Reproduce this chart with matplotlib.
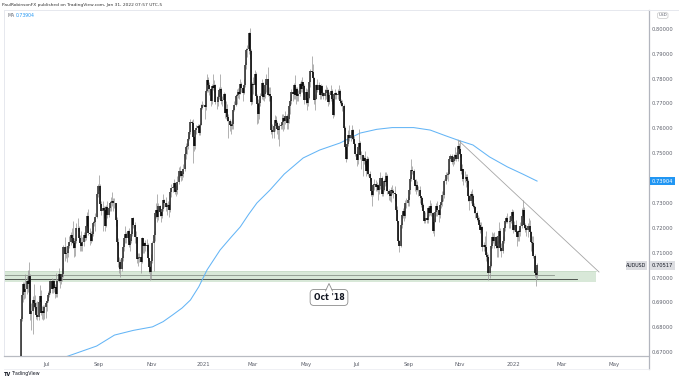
import numpy as np
import pandas as pd
import matplotlib
matplotlib.use("Agg")
import matplotlib.pyplot as plt
from matplotlib.patches import Polygon, FancyBboxPatch
import matplotlib.transforms as mtransforms

# ---------------- data (AUDUSD daily, values in pips = price * 10000) ----------------
first_open = 6669

close_2020 = [
    6836, 6933, 6975, 6946, 6955, 6990, 6978, 7007, 6855, 6866, 6910, 6898, 6883, 6850, 6845, 6905, 6928, 6860, 6868, 6860, 6883, 6900,
    6908, 6934, 6940, 6988, 6957, 6988, 6960, 6966, 6935, 6990, 7015, 6989, 7004, 7015, 7125, 7098, 7100, 7100, 7130, 7146, 7173, 7160, 7143,
    7120, 7150, 7200, 7200, 7160, 7140, 7130, 7145, 7172, 7163, 7210, 7250, 7183, 7177, 7150, 7178, 7222, 7225, 7245, 7340, 7372,
    7370, 7296, 7270, 7283, 7272, 7210, 7287, 7255, 7280, 7302, 7304, 7311, 7300, 7300, 7233, 7147, 7063, 7063, 7037, 7082, 7125, 7162,
    7176, 7163, 7190, 7133, 7150, 7178, 7240, 7215, 7166, 7165, 7078, 7082, 7085, 7066, 7163, 7128, 7142, 7128, 7133, 7080, 7046, 7023,
    7070, 7140, 7175, 7260, 7275, 7247, 7290, 7264, 7250, 7277, 7314, 7303, 7285, 7291, 7295, 7275, 7345, 7364, 7368, 7383, 7345,
    7353, 7385, 7430, 7430, 7410, 7420, 7438, 7500, 7526, 7530, 7560, 7586, 7628, 7624, 7566, 7530, 7594, 7605, 7612, 7582, 7617, 7684, 7697,
]
high_2020 = [
    6848, 6949, 6986, 6984, 7016, 7008, 7034, 7064, 7015, 6900, 6929, 6976, 6932, 6903, 6908, 6910, 6972, 6953, 6886, 6893, 6892, 6908,
    6922, 6950, 6955, 6993, 7000, 6995, 6994, 6975, 7020, 6995, 7039, 7015, 7018, 7040, 7135, 7166, 7130, 7110, 7140, 7170, 7185, 7200, 7228,
    7163, 7160, 7220, 7243, 7210, 7175, 7190, 7165, 7185, 7185, 7215, 7265, 7276, 7200, 7191, 7190, 7230, 7240, 7260, 7345, 7380,
    7413, 7380, 7310, 7310, 7290, 7290, 7295, 7310, 7290, 7310, 7325, 7345, 7320, 7320, 7295, 7245, 7160, 7085, 7075, 7090, 7140, 7175,
    7210, 7185, 7195, 7200, 7160, 7190, 7243, 7245, 7225, 7190, 7160, 7100, 7100, 7085, 7165, 7158, 7145, 7155, 7158, 7140, 7070, 7050,
    7095, 7150, 7190, 7275, 7300, 7340, 7300, 7295, 7265, 7285, 7340, 7318, 7325, 7300, 7310, 7300, 7350, 7380, 7373, 7400, 7385,
    7375, 7410, 7445, 7450, 7425, 7435, 7460, 7505, 7545, 7545, 7575, 7590, 7640, 7635, 7640, 7570, 7600, 7615, 7620, 7618, 7625, 7700, 7710,
]
low_2020 = [
    6650, 6826, 6905, 6915, 6920, 6935, 6945, 6965, 6832, 6790, 6777, 6880, 6860, 6835, 6833, 6830, 6889, 6850, 6835, 6833, 6834, 6840,
    6868, 6902, 6925, 6935, 6940, 6940, 6945, 6920, 6925, 6925, 6985, 6960, 6978, 6990, 7005, 7070, 7080, 7065, 7085, 7120, 7135, 7140, 7120,
    7085, 7090, 7140, 7190, 7145, 7110, 7110, 7110, 7130, 7150, 7155, 7205, 7175, 7135, 7140, 7150, 7170, 7210, 7190, 7240, 7325,
    7355, 7285, 7255, 7191, 7240, 7190, 7205, 7240, 7245, 7270, 7270, 7290, 7270, 7280, 7210, 7135, 7045, 7020, 7006, 7030, 7070, 7110,
    7140, 7140, 7150, 7125, 7110, 7140, 7170, 7200, 7140, 7140, 7060, 7050, 7065, 7020, 7060, 7100, 7100, 7110, 7110, 7070, 7020, 6991,
    6995, 7060, 7030, 7150, 7240, 7225, 7235, 7250, 7225, 7240, 7270, 7285, 7270, 7255, 7280, 7245, 7265, 7325, 7345, 7350, 7340,
    7330, 7340, 7380, 7405, 7390, 7395, 7405, 7430, 7480, 7500, 7520, 7555, 7580, 7590, 7462, 7510, 7520, 7580, 7600, 7575, 7575, 7620, 7680,
]

close_2021 = [
    7697, 7688, 7753, 7798, 7778, 7760, 7712, 7772, 7765, 7776, 7709, 7707, 7727, 7755, 7760, 7712, 7716, 7740, 7662, 7680, 7648,
    7630, 7615, 7610, 7620, 7674, 7695, 7733, 7736, 7750, 7741, 7780, 7765, 7742, 7775, 7855, 7918, 7920, 7987, 7914, 7708,
    7780, 7778, 7820, 7730, 7701, 7660, 7705, 7730, 7786, 7728, 7738, 7777, 7802, 7735, 7740, 7730, 7594, 7587, 7612, 7635, 7624, 7600, 7597,
    7610, 7616, 7626, 7643, 7630, 7653, 7622, 7640, 7690, 7710, 7749, 7740, 7775, 7735, 7760, 7731, 7738, 7782, 7762, 7790, 7772, 7715,
    7750, 7705, 7725, 7787, 7833, 7828, 7805, 7717, 7720, 7775, 7755, 7775, 7735, 7772, 7742, 7730, 7745, 7755, 7757, 7707, 7735,
    7751, 7720, 7655, 7739, 7745, 7735, 7740, 7752, 7712, 7703, 7692, 7602, 7525, 7480, 7540, 7577, 7565, 7575, 7595, 7560, 7540, 7500,
    7475, 7525, 7545, 7495, 7496, 7470, 7483, 7470, 7430, 7480, 7420, 7402, 7350, 7335, 7375, 7380, 7365, 7375, 7355, 7370, 7403, 7340,
    7355, 7390, 7385, 7410, 7350, 7340, 7330, 7355, 7350, 7344, 7337, 7275, 7228, 7150, 7130, 7215, 7255, 7268, 7250, 7300, 7300, 7315,
    7355, 7400, 7435, 7430, 7395, 7370, 7375, 7355, 7355, 7330, 7320, 7293, 7270, 7230, 7242, 7232, 7280, 7260, 7290, 7260, 7190, 7226,
    7265, 7290, 7275, 7255, 7295, 7305, 7335, 7335, 7390, 7416, 7415, 7418, 7480, 7490, 7465, 7470, 7485, 7495, 7480, 7530, 7520,
    7500, 7430, 7440, 7400, 7400, 7405, 7390, 7330, 7310, 7340, 7330, 7290, 7285, 7263, 7240, 7232, 7215, 7195, 7207, 7125, 7135, 7125,
    7093, 7085, 7020, 7050, 7130, 7165, 7150, 7165, 7130, 7120, 7170, 7190, 7120, 7110, 7150, 7200, 7230, 7243, 7225, 7225, 7230, 7250, 7265,
]
high_2021 = [
    7700, 7743, 7760, 7820, 7810, 7790, 7760, 7780, 7819, 7795, 7780, 7730, 7745, 7770, 7820, 7770, 7730, 7750, 7745, 7710, 7700,
    7660, 7640, 7630, 7640, 7685, 7710, 7740, 7760, 7765, 7755, 7800, 7790, 7775, 7800, 7870, 7925, 7935, 7990, 8007, 7920,
    7790, 7810, 7838, 7830, 7740, 7720, 7710, 7745, 7800, 7790, 7760, 7790, 7820, 7849, 7770, 7770, 7730, 7620, 7625, 7655, 7650, 7630, 7615,
    7625, 7625, 7660, 7660, 7650, 7670, 7660, 7650, 7700, 7720, 7760, 7765, 7785, 7817, 7770, 7770, 7755, 7790, 7795, 7810, 7790, 7780,
    7765, 7760, 7745, 7795, 7840, 7891, 7860, 7810, 7740, 7780, 7800, 7790, 7775, 7780, 7775, 7750, 7760, 7775, 7770, 7760, 7750,
    7775, 7760, 7725, 7745, 7760, 7750, 7760, 7775, 7760, 7720, 7715, 7700, 7610, 7540, 7545, 7595, 7615, 7590, 7617, 7600, 7570, 7545,
    7510, 7530, 7600, 7550, 7510, 7495, 7490, 7510, 7480, 7490, 7485, 7430, 7400, 7375, 7380, 7400, 7395, 7385, 7380, 7395, 7425, 7410,
    7375, 7400, 7425, 7425, 7420, 7360, 7350, 7365, 7375, 7360, 7370, 7340, 7290, 7230, 7155, 7220, 7265, 7280, 7290, 7315, 7320, 7330,
    7360, 7405, 7478, 7450, 7440, 7400, 7400, 7390, 7370, 7370, 7330, 7325, 7300, 7270, 7265, 7255, 7290, 7285, 7315, 7300, 7265, 7240,
    7275, 7300, 7310, 7275, 7300, 7320, 7350, 7350, 7400, 7425, 7425, 7440, 7485, 7500, 7500, 7490, 7500, 7525, 7505, 7556, 7545,
    7555, 7500, 7460, 7440, 7430, 7420, 7420, 7400, 7335, 7350, 7360, 7340, 7300, 7290, 7270, 7255, 7245, 7225, 7225, 7210, 7145, 7170,
    7190, 7105, 7095, 7070, 7140, 7185, 7180, 7185, 7170, 7150, 7175, 7225, 7200, 7140, 7170, 7210, 7240, 7250, 7260, 7250, 7250, 7265, 7277,
]
low_2021 = [
    7690, 7640, 7675, 7750, 7750, 7735, 7690, 7700, 7755, 7750, 7700, 7680, 7690, 7720, 7745, 7700, 7690, 7705, 7645, 7640, 7630,
    7563, 7590, 7580, 7600, 7600, 7670, 7690, 7700, 7725, 7720, 7740, 7750, 7710, 7740, 7770, 7840, 7890, 7900, 7880, 7695,
    7700, 7740, 7760, 7720, 7620, 7622, 7640, 7690, 7720, 7715, 7710, 7725, 7750, 7730, 7710, 7710, 7580, 7565, 7565, 7590, 7610, 7580, 7560,
    7531, 7600, 7600, 7590, 7600, 7620, 7600, 7600, 7625, 7660, 7700, 7710, 7720, 7720, 7700, 7710, 7710, 7730, 7750, 7750, 7740, 7700,
    7700, 7675, 7690, 7720, 7770, 7810, 7780, 7700, 7675, 7720, 7750, 7750, 7720, 7720, 7730, 7720, 7715, 7720, 7730, 7690, 7700,
    7710, 7700, 7645, 7650, 7720, 7720, 7720, 7735, 7700, 7690, 7670, 7595, 7520, 7465, 7477, 7530, 7550, 7550, 7560, 7550, 7520, 7490,
    7450, 7460, 7520, 7480, 7440, 7410, 7460, 7450, 7410, 7420, 7410, 7390, 7330, 7290, 7330, 7355, 7350, 7350, 7315, 7340, 7360, 7330,
    7330, 7350, 7370, 7375, 7340, 7315, 7310, 7305, 7340, 7320, 7310, 7265, 7220, 7140, 7106, 7125, 7200, 7240, 7230, 7240, 7280, 7290,
    7290, 7340, 7390, 7420, 7380, 7350, 7340, 7350, 7330, 7300, 7285, 7275, 7260, 7220, 7220, 7220, 7220, 7250, 7255, 7250, 7180, 7170,
    7225, 7250, 7250, 7225, 7240, 7280, 7290, 7310, 7320, 7380, 7400, 7390, 7420, 7470, 7460, 7450, 7460, 7475, 7470, 7470, 7500,
    7485, 7420, 7390, 7375, 7385, 7365, 7370, 7310, 7275, 7300, 7320, 7280, 7260, 7240, 7230, 7220, 7200, 7180, 7190, 7110, 7110, 7110,
    7070, 7060, 6993, 7000, 7045, 7120, 7140, 7120, 7120, 7085, 7085, 7140, 7110, 7085, 7100, 7140, 7190, 7220, 7220, 7200, 7200, 7220, 7240,
]

close_2022 = [7195, 7215, 7185, 7165, 7190, 7185, 7210, 7250, 7275, 7215, 7200, 7195, 7210, 7210, 7187, 7145, 7140, 7090, 7020, 7013, 7052]
high_2022 = [7275, 7230, 7235, 7190, 7195, 7200, 7225, 7280, 7314, 7285, 7220, 7215, 7220, 7240, 7235, 7190, 7170, 7170, 7095, 7045, 7060]
low_2022 = [7180, 7190, 7180, 7130, 7150, 7150, 7170, 7200, 7245, 7200, 7185, 7170, 7165, 7190, 7170, 7110, 7100, 7080, 7005, 6967, 7000]

# 200-day moving average (bar number, value)
ma_bar = [30, 64, 79, 95, 111, 120, 128, 136, 143, 150, 157, 168, 177, 185, 192, 199, 210, 222, 238, 252, 269, 286, 300,
          313, 331, 345, 358, 368, 381, 395, 410, 423, 435]
ma_val = [0.6670, 0.6727, 0.6771, 0.6790, 0.6804, 0.6825, 0.6852, 0.6880, 0.6912, 0.6965, 0.7033, 0.7113, 0.7163, 0.7206,
          0.7256, 0.7302, 0.7354, 0.7418, 0.7483, 0.7515, 0.7543, 0.7583, 0.7598, 0.7605, 0.7605, 0.7595, 0.7572,
          0.7555, 0.7535, 0.7487, 0.7447, 0.7418, 0.7390]

price_ticks = [0.67, 0.68, 0.69, 0.70, 0.71, 0.72, 0.73, 0.75, 0.76, 0.77, 0.78, 0.79, 0.80]
month_labels = ["Jul", "Sep", "Nov", "2021", "Mar", "May", "Jul", "Sep", "Nov", "2022", "Mar", "May"]
month_starts = ["2020-07", "2020-09", "2020-11", "2021-01", "2021-03", "2021-05",
                "2021-07", "2021-09", "2021-11", "2022-01", "2022-03", "2022-05"]

zone_low, zone_high = 0.69825, 0.70267
support_dark = 0.6995
support_light = 0.7011
last_price = 0.70517
ma_last = 0.73904

# ---------------- build series ----------------
close = np.array(close_2020 + close_2021 + close_2022) / 1e4
high = np.array(high_2020 + high_2021 + high_2022) / 1e4
low = np.array(low_2020 + low_2021 + low_2022) / 1e4
opn = np.concatenate([[first_open / 1e4], close[:-1]])
high = np.maximum(high, np.maximum(opn, close))
low = np.minimum(low, np.minimum(opn, close))
idx = np.arange(len(close))
dates = pd.bdate_range("2020-06-01", periods=len(close) + 120)

# ---------------- figure ----------------
W, H = 679, 381
fig = plt.figure(figsize=(W / 100, H / 100), dpi=100)
fig.patch.set_facecolor("white")

X0, DX = 20.7, 1.187          # pixel position of bar 0, pixels per bar
def bx(px):
    return (px - X0) / DX
def py2p(py):
    return 0.8 - (py - 29.3) / 2488.0

AX_L, AX_R, AX_T, AX_B = 4, 649, 10, 356
ax = fig.add_axes([AX_L / W, 1 - AX_B / H, (AX_R - AX_L) / W, (AX_B - AX_T) / H])
ax.set_xlim(bx(AX_L), bx(AX_R))
ax.set_ylim(py2p(AX_B), py2p(AX_T))
ax.set_xticks([])
ax.set_yticks([])
for s in ["left", "top"]:
    ax.spines[s].set_color("#e6e8ee")
    ax.spines[s].set_linewidth(0.7)
ax.spines["right"].set_visible(False)
ax.spines["bottom"].set_color("#b8bbc2")
ax.spines["bottom"].set_linewidth(0.9)

# support zone
ax.fill_between([bx(AX_L), bx(596)], zone_low, zone_high, color="#d8e8d8", zorder=0.5, lw=0)
ax.plot([bx(AX_L), bx(596)], [zone_high, zone_high], color="#c4dbc4", lw=0.5, zorder=0.6)
ax.plot([bx(AX_L), bx(554)], [support_light, support_light], color="#8a948a", lw=0.6, zorder=1)
ax.plot([bx(AX_L), bx(577)], [support_dark, support_dark], color="#3a3f3a", lw=0.6, zorder=1)

# MA
ax.plot(ma_bar, ma_val, color="#64b5f6", lw=0.75, zorder=1.5, solid_joinstyle="round")

# trend line
ax.plot([bx(458), bx(599)], [py2p(140), py2p(272)], color="#a6a6a6", lw=0.6, zorder=1.5)

# candles
up = close >= opn
ax.vlines(idx, low, high, color="#9c9c9c", lw=0.55, zorder=2)
ax.vlines(idx[up], opn[up], close[up], color="#2e2e2e", lw=1.15, zorder=3)
ax.vlines(idx[~up], close[~up], opn[~up], color="#000000", lw=1.15, zorder=3)

# callout "Oct '18"
ax.text(bx(329), py2p(297.5), "Oct '18", ha="center", va="center", fontsize=5.6, fontweight="bold",
        color="#131722", zorder=6,
        bbox=dict(boxstyle="round,pad=0.45,rounding_size=0.5", fc="white", ec="#8c8c8c", lw=0.6))
tri = Polygon([[bx(325.5), py2p(291.8)], [bx(329), py2p(283.5)], [bx(332.5), py2p(291.8)]],
              closed=True, fc="white", ec="none", zorder=7)
ax.add_patch(tri)
ax.plot([bx(325.5), bx(329), bx(332.5)], [py2p(291.0), py2p(283.5), py2p(291.0)],
        color="#8c8c8c", lw=0.6, zorder=8)

# ---------------- price axis ----------------
blend = mtransforms.blended_transform_factory(fig.transFigure, ax.transData)
LX = 662.5 / W
for p in price_ticks:
    ax.text(LX, p, f"{p:.5f}", transform=blend, ha="center", va="center",
            fontsize=3.7, color="#5d606b", clip_on=False)

def label_box(x0, x1, yc, h, fc, txt, tc, fs=3.7, bold=False):
    rect = FancyBboxPatch(((x0) / W, 1 - (yc + h / 2) / H), (x1 - x0) / W, h / H,
                          boxstyle="square,pad=0", transform=fig.transFigure,
                          fc=fc, ec="none", zorder=10)
    fig.add_artist(rect)
    fig.text((x0 + x1) / 2 / W, 1 - yc / H, txt, ha="center", va="center", fontsize=fs,
             color=tc, zorder=11, fontweight="bold" if bold else "normal")

label_box(650, 675, 181.2, 8.5, "#2196f3", f"{ma_last:.5f}", "white")
label_box(650, 675, 265.5, 8.5, "#dcdde1", f"{last_price:.5f}", "#131722")
label_box(626, 647, 265.5, 8.5, "#dcdde1", "AUDUSD", "#131722", fs=3.4)

usd = FancyBboxPatch((657.5 / W, 1 - 18.5 / H), 10.5 / W, 6 / H,
                     boxstyle="round,pad=0,rounding_size=0.004", transform=fig.transFigure,
                     fc="white", ec="#c8c8c8", lw=0.5)
fig.add_artist(usd)
fig.text(662.7 / W, 1 - 15.5 / H, "USD", ha="center", va="center", fontsize=3.0, color="#5d606b")

# separators
fig.add_artist(plt.Line2D([AX_R / W, AX_R / W], [1 - AX_T / H, 1 - 369 / H], color="#b2b5be", lw=0.9))
fig.add_artist(plt.Line2D([AX_L / W, AX_R / W], [1 - 368.5 / H, 1 - 368.5 / H], color="#eceef2", lw=0.6))
fig.add_artist(plt.Line2D([AX_R / W, 679 / W], [1 - AX_T / H, 1 - AX_T / H], color="#e6e8ee", lw=0.7))

# ---------------- time axis ----------------
for lab, ms in zip(month_labels, month_starts):
    pos = int(np.searchsorted(dates, pd.Timestamp(ms + "-01")))
    ax.text(pos, -0.018, lab, transform=mtransforms.blended_transform_factory(ax.transData, ax.transAxes),
            ha="center", va="top", fontsize=3.9, color="#5d606b", clip_on=False)

# ---------------- header / footer ----------------
fig.text(2 / W, 1 - 5 / H, "PaulRobinsonFX published on TradingView.com, Jan 31, 2022 07:57 UTC-5",
         ha="left", va="center", fontsize=3.2, color="#333333")
fig.text(7 / W, 1 - 15.5 / H, "MA", ha="left", va="center", fontsize=3.3, color="#5d606b")
fig.text(15.5 / W, 1 - 15.5 / H, f"{ma_last:.5f}", ha="left", va="center", fontsize=3.3, color="#2196f3")
fig.text(4 / W, 1 - 374 / H, "TV", ha="left", va="center", fontsize=3.6, fontweight="bold", color="#131722")
fig.text(12 / W, 1 - 374 / H, "TradingView", ha="left", va="center", fontsize=3.4, color="#131722")

fig.savefig("out.png", dpi=100, facecolor="white")
